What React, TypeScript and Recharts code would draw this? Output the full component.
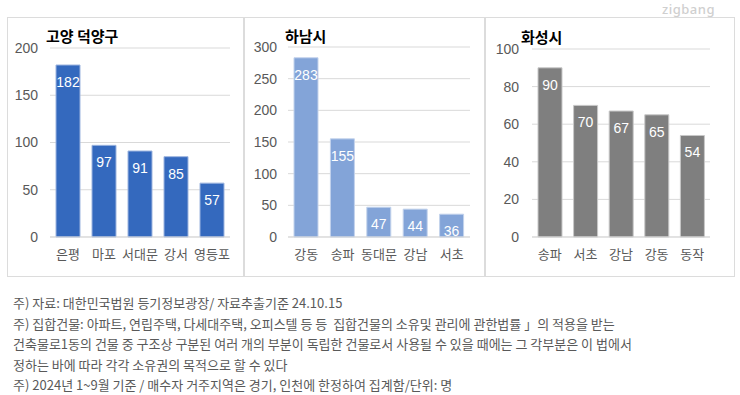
import React from 'react';
import { BarChart, Bar, XAxis, YAxis, CartesianGrid, LabelList } from 'recharts';

const goyangCats = ['은평', '마포', '서대문', '강서', '영등포'];
const goyangVals = [182, 97, 91, 85, 57];
const goyangTicks = [0, 50, 100, 150, 200];

const hanamCats = ['강동', '송파', '동대문', '강남', '서초'];
const hanamVals = [283, 155, 47, 44, 36];
const hanamTicks = [0, 50, 100, 150, 200, 250, 300];

const hwaseongCats = ['송파', '서초', '강남', '강동', '동작'];
const hwaseongVals = [90, 70, 67, 65, 54];
const hwaseongTicks = [0, 20, 40, 60, 80, 100];

const titles = ['고양 덕양구', '하남시', '화성시'];

const notes = [
  '주) 자료: 대한민국법원 등기정보광장/ 자료추출기준 24.10.15',
  '주) 집합건물: 아파트, 연립주택, 다세대주택, 오피스텔 등 등  집합건물의 소유및 관리에 관한법률 」의 적용을 받는',
  '건축물로1동의 건물 중 구조상 구분된 여러 개의 부분이 독립한 건물로서 사용될 수 있을 때에는 그 각부분은 이 법에서',
  '정하는 바에 따라 각각 소유권의 목적으로 할 수 있다',
  '주) 2024년 1~9월 기준 / 매수자 거주지역은 경기, 인천에 한정하여 집계함/단위: 명',
];

const build = (cats: string[], vals: number[]) => cats.map((c, i) => ({ name: c, value: vals[i] }));

const FONT = "'Liberation Sans', 'Noto Sans CJK KR', sans-serif";
const TICK_COLOR = '#595959';
const GRID = '#D9D9D9';

type PanelProps = {
  data: { name: string; value: number }[];
  ticks: number[];
  color: string;
  stroke: string;
  left: number;
  width: number;
  yWidth: number;
  right: number;
  top: number;
  tickMargin: number;
  labelOffset: number;
};

function Panel(p: PanelProps) {
  const max = p.ticks[p.ticks.length - 1];
  return (
    <div style={{ position: 'absolute', left: p.left, top: 17 }}>
      <BarChart
        width={p.width}
        height={260}
        data={p.data}
        margin={{ top: p.top, right: p.right, left: 0, bottom: 10 }}
      >
        <CartesianGrid vertical={false} stroke={GRID} />
        <XAxis
          dataKey="name"
          interval={0}
          height={30}
          tickLine={false}
          tickSize={0}
          tickMargin={13}
          axisLine={{ stroke: GRID }}
          tick={{ fill: TICK_COLOR, fontSize: 13, fontFamily: "'Noto Sans CJK KR', sans-serif" }}
        />
        <YAxis
          width={p.yWidth}
          domain={[0, max]}
          ticks={p.ticks}
          interval={0}
          axisLine={false}
          tickLine={false}
          tickSize={0}
          tickMargin={p.tickMargin}
          tick={{ fill: TICK_COLOR, fontSize: 14, fontFamily: FONT }}
        />
        <Bar dataKey="value" fill={p.color} stroke={p.stroke} strokeWidth={1} barSize={24} isAnimationActive={false}>
          <LabelList
            dataKey="value"
            position="insideTop"
            offset={p.labelOffset}
            fill="#FFFFFF"
            fontSize={14}
            fontFamily={FONT}
          />
        </Bar>
      </BarChart>
    </div>
  );
}

const panelBox = (left: number, width: number): React.CSSProperties => ({
  position: 'absolute',
  left,
  top: 17,
  width,
  height: 260,
  border: '1px solid #DCDCDC',
  boxSizing: 'border-box',
});

const titleStyle = (left: number, top: number): React.CSSProperties => ({
  position: 'absolute',
  left,
  top,
  fontSize: 15,
  fontWeight: 700,
  lineHeight: 1,
  color: '#000',
  fontFamily: "'Noto Sans CJK KR', sans-serif",
  whiteSpace: 'nowrap',
});

export default function App() {
  return (
    <div
      style={{
        position: 'absolute',
        left: 0,
        top: 0,
        width: 740,
        height: 395,
        background: '#FFFFFF',
        overflow: 'hidden',
        fontFamily: FONT,
      }}
    >
      <div style={panelBox(7, 237)} />
      <div style={panelBox(244, 241)} />
      <div style={panelBox(485, 250)} />

      <div
        style={{
          position: 'absolute',
          left: 662,
          top: 0,
          fontSize: 13,
          color: '#CFCFCF',
          fontFamily: "'Noto Sans', sans-serif",
          fontWeight: 500,
          letterSpacing: 0.5,
          lineHeight: '18px',
        }}
      >
        zigbang
      </div>

      <Panel data={build(goyangCats, goyangVals)} ticks={goyangTicks} color="#3469BE" stroke="#9DB5DF"
        left={7} width={237} yWidth={43} right={14} top={31} tickMargin={12} labelOffset={12} />
      <Panel data={build(hanamCats, hanamVals)} ticks={hanamTicks} color="#83A4D8" stroke="#C3D3EC"
        left={244} width={241} yWidth={44} right={15} top={30} tickMargin={11} labelOffset={12} />
      <Panel data={build(hwaseongCats, hwaseongVals)} ticks={hwaseongTicks} color="#7F7F7F" stroke="#C8C8C8"
        left={485} width={250} yWidth={47} right={25} top={32} tickMargin={13} labelOffset={12} />

      <div style={titleStyle(46, 28)}>{titles[0]}</div>
      <div style={titleStyle(285, 28)}>{titles[1]}</div>
      <div style={titleStyle(521, 29)}>{titles[2]}</div>

      <div
        style={{
          position: 'absolute',
          left: 13,
          top: 293,
          fontSize: 13,
          lineHeight: '20.6px',
          color: '#595959',
          letterSpacing: 0,
          fontFamily: "'Noto Sans CJK KR', sans-serif",
          whiteSpace: 'pre',
        }}
      >
        {notes.map((n, i) => (
          <div key={i}>{n}</div>
        ))}
      </div>
    </div>
  );
}
